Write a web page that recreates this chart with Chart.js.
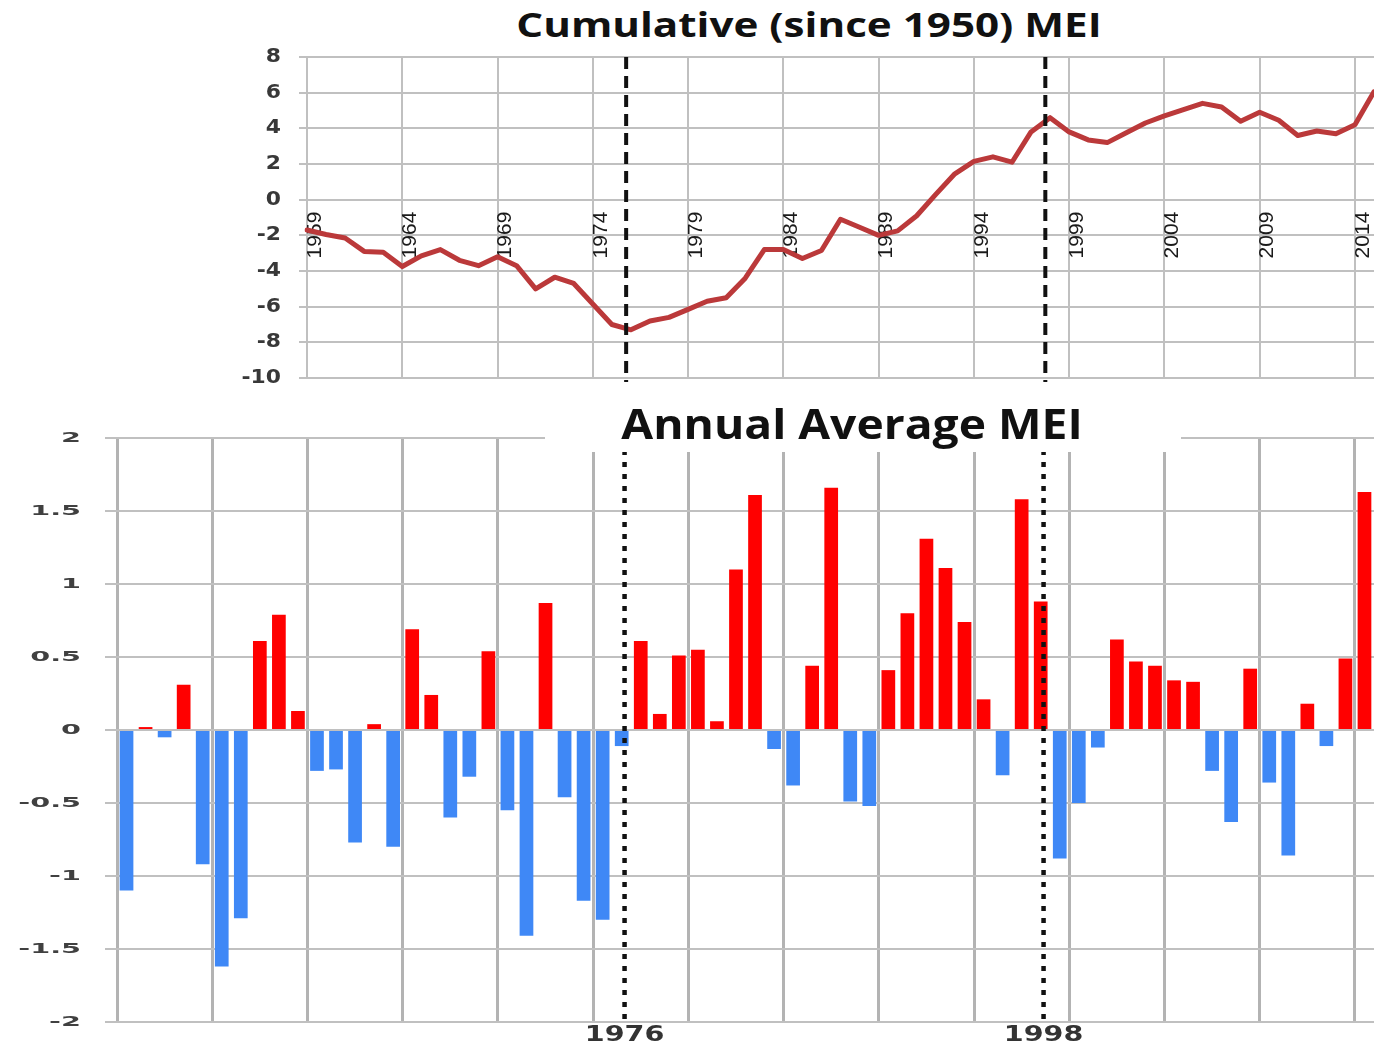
<!DOCTYPE html>
<html lang="en">
<head>
<meta charset="utf-8">
<title>Cumulative and Annual Average MEI</title>
<script src="https://cdn.jsdelivr.net/npm/chart.js@4.4.1/dist/chart.umd.min.js"></script>
<style>
  html, body { margin: 0; padding: 0; background: #fff; }
  body { position: relative; width: 1374px; height: 1048px; overflow: hidden; }
  canvas { position: absolute; left: 0; }
  #cumulativeChart { top: 0; }
  #annualChart { top: 392px; }
  .chart-title {
    position: absolute;
    font-family: "Open Sans", sans-serif;
    font-weight: 700;
    color: #111;
    white-space: nowrap;
    text-align: center;
  }
  #cumulative-title { left: 409px; top: 0; width: 800px; font-size: 34px; line-height: 48px; transform: scaleX(1.24); }
  #annual-title-box { left: 545px; top: 400px; width: 636px; height: 52px; background: #fff; }
  #annual-title { left: 452px; top: 398px; width: 800px; font-size: 42px; line-height: 50px; transform: scaleX(1.1); }
</style>
</head>
<body>
  <div class="chart-title" id="cumulative-title">Cumulative (since 1950) MEI</div>
  <canvas id="cumulativeChart" width="1420" height="392"></canvas>
  <canvas id="annualChart" width="1374" height="656"></canvas>
  <div class="chart-title" id="annual-title-box"></div>
  <div class="chart-title" id="annual-title">Annual Average MEI</div>
<script>
// annual average MEI, 1950-2015
const annualYears = Array.from({ length: 66 }, (_, i) => 1950 + i);
const annualMei = [
  -1.10, 0.02, -0.05, 0.31, -0.92, -1.62, -1.29, 0.61, 0.79, 0.13,
  -0.28, -0.27, -0.77, 0.04, -0.80, 0.69, 0.24, -0.60, -0.32, 0.54,
  -0.55, -1.41, 0.87, -0.46, -1.17, -1.30, -0.11, 0.61, 0.11, 0.51,
  0.55, 0.06, 1.10, 1.61, -0.13, -0.38, 0.44, 1.66, -0.49, -0.52,
  0.41, 0.80, 1.31, 1.11, 0.74, 0.21, -0.31, 1.58, 0.88, -0.88,
  -0.50, -0.12, 0.62, 0.47, 0.44, 0.34, 0.33, -0.28, -0.63, 0.42,
  -0.36, -0.86, 0.18, -0.11, 0.49, 1.63,
];

// cumulative (since 1950) MEI, shown from 1959
const cumulativeYears = Array.from({ length: 57 }, (_, i) => 1959 + i);
const cumulativeMei = [
  -1.70, -1.95, -2.15, -2.90, -2.95, -3.75, -3.15, -2.80, -3.40, -3.70,
  -3.20, -3.70, -5.00, -4.35, -4.70, -5.85, -7.00, -7.30, -6.80, -6.60,
  -6.15, -5.70, -5.50, -4.40, -2.80, -2.80, -3.30, -2.85, -1.10, -1.55,
  -2.00, -1.75, -0.90, 0.30, 1.45, 2.15, 2.40, 2.10, 3.80, 4.60,
  3.80, 3.35, 3.20, 3.75, 4.30, 4.70, 5.05, 5.40, 5.20, 4.40,
  4.90, 4.45, 3.60, 3.85, 3.70, 4.20, 6.05,
];

const regimeYears = [1976, 1998];

const palette = {
  line: "#bb393a",
  warm: "#ff0000",
  cool: "#3f88f6",
  grid: "#c0c0c0",
  gridDark: "#b3b3b3",
  ink: "#111111",
  label: "#383838",
};

const clear = "rgba(0, 0, 0, 0)";

// y tick labels are drawn wide, like the stretched labels of the original figure
const wideTickLabels = {
  id: "wideTickLabels",
  afterDraw(chart, args, opts) {
    const { ctx } = chart;
    const scale = chart.scales.y;
    ctx.save();
    ctx.font = `bold ${opts.size}px "DejaVu Sans", sans-serif`;
    ctx.fillStyle = opts.color;
    ctx.textAlign = "right";
    ctx.textBaseline = "middle";
    scale.ticks.forEach((tick) => {
      ctx.save();
      ctx.translate(scale.right - opts.gap, scale.getPixelForValue(tick.value));
      ctx.scale(opts.stretch, 1);
      ctx.fillText(String(tick.value), 0, 0);
      ctx.restore();
    });
    ctx.restore();
  },
};

const regimeLines = {
  id: "regimeLines",
  afterDatasetsDraw(chart, args, opts) {
    const { ctx, chartArea } = chart;
    const xScale = chart.scales.x;
    const labels = xScale.getLabels();
    ctx.save();
    ctx.strokeStyle = palette.ink;
    ctx.lineWidth = opts.width;
    ctx.setLineDash(opts.dash);
    regimeYears.forEach((year) => {
      const x = xScale.getPixelForValue(labels.indexOf(year) + opts.shift);
      ctx.beginPath();
      ctx.moveTo(x, chartArea.top);
      ctx.lineTo(x, chartArea.bottom + opts.overhang);
      ctx.stroke();
    });
    ctx.restore();
  },
  afterDraw(chart, args, opts) {
    if (!opts.label) {
      return;
    }
    const { ctx, chartArea } = chart;
    const xScale = chart.scales.x;
    const labels = xScale.getLabels();
    ctx.save();
    ctx.font = `bold ${opts.label.size}px "DejaVu Sans", sans-serif`;
    ctx.fillStyle = "#333333";
    ctx.textAlign = "center";
    ctx.textBaseline = "middle";
    regimeYears.forEach((year) => {
      const x = xScale.getPixelForValue(labels.indexOf(year) + opts.shift);
      ctx.save();
      ctx.translate(x, chartArea.bottom + opts.label.offset);
      ctx.scale(opts.label.stretch, 1);
      ctx.fillText(String(year), 0, 0);
      ctx.restore();
    });
    ctx.restore();
  },
};

function renderCumulativeChart() {
  new Chart(document.getElementById("cumulativeChart"), {
    type: "line",
    data: {
      labels: cumulativeYears,
      datasets: [
        {
          label: "Cumulative MEI",
          data: cumulativeMei,
          borderColor: palette.line,
          borderWidth: 5,
          pointRadius: 0,
          tension: 0,
          borderJoinStyle: "round",
          borderCapStyle: "round",
        },
      ],
    },
    options: {
      responsive: false,
      animation: false,
      events: [],
      layout: { padding: { left: 0, top: 57, right: 46, bottom: 14 } },
      plugins: {
        legend: { display: false },
        tooltip: { enabled: false },
        wideTickLabels: { size: 19, stretch: 1.15, gap: 26, color: palette.label },
        regimeLines: { shift: -0.25, width: 4, dash: [12, 7], overhang: 4 },
      },
      scales: {
        x: {
          type: "category",
          position: { y: 0 },
          offset: false,
          border: { display: false },
          grid: {
            color: (ctx) => (ctx.index % 5 === 0 ? palette.grid : clear),
            lineWidth: 2,
            drawTicks: false,
          },
          ticks: {
            autoSkip: false,
            minRotation: 90,
            maxRotation: 90,
            padding: 12,
            labelOffset: 8,
            color: "#1a1a1a",
            font: { family: '"Liberation Sans Narrow", "Liberation Sans", sans-serif', size: 21 },
            callback(value, index) {
              return index % 5 === 0 ? String(this.getLabelForValue(value)) : "";
            },
          },
        },
        y: {
          min: -10,
          max: 8,
          border: { display: false },
          grid: { color: palette.grid, lineWidth: 2, tickLength: 8 },
          ticks: { stepSize: 2, display: false },
          afterFit(scale) {
            scale.width = 307;
          },
        },
      },
    },
    plugins: [wideTickLabels, regimeLines],
  });
}

function renderAnnualChart() {
  new Chart(document.getElementById("annualChart"), {
    type: "bar",
    data: {
      labels: annualYears,
      datasets: [
        {
          label: "Annual Average MEI",
          data: annualMei,
          backgroundColor: (ctx) => (ctx.raw >= 0 ? palette.warm : palette.cool),
          categoryPercentage: 1,
          barPercentage: 0.72,
        },
      ],
    },
    options: {
      responsive: false,
      animation: false,
      events: [],
      layout: { padding: { left: 0, top: 46, right: 0, bottom: 26 } },
      plugins: {
        legend: { display: false },
        tooltip: { enabled: false },
        wideTickLabels: { size: 14, stretch: 2.05, gap: 36, color: "#404040" },
        regimeLines: {
          shift: 0.15,
          width: 4.5,
          dash: [5, 7],
          overhang: 0,
          label: { size: 22, stretch: 1.3, offset: 13 },
        },
      },
      scales: {
        x: {
          offset: true,
          border: { display: false },
          grid: {
            offset: true,
            color: (ctx) => (ctx.index % 5 === 0 ? palette.gridDark : clear),
            lineWidth: 3,
            drawTicks: false,
          },
          ticks: { display: false },
        },
        y: {
          min: -2,
          max: 2,
          border: { display: false },
          grid: { color: palette.grid, lineWidth: 2, tickLength: 12 },
          ticks: { stepSize: 0.5, display: false },
          afterFit(scale) {
            scale.width = 117;
          },
        },
      },
    },
    plugins: [wideTickLabels, regimeLines],
  });
}

renderCumulativeChart();
renderAnnualChart();
</script>
</body>
</html>
